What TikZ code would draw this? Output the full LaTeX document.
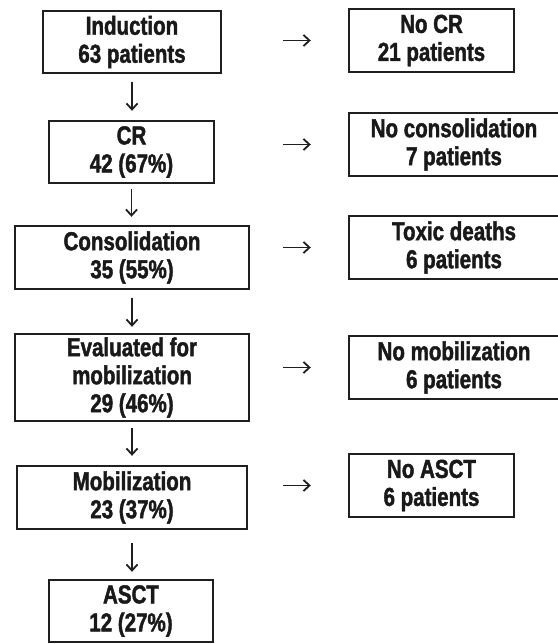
\documentclass[tikz,border=0pt]{standalone}
\usepackage{fontspec}
\setmainfont{Liberation Sans}[FakeStretch=0.79, BoldFeatures={FakeBold=1.6}]
\usetikzlibrary{arrows.meta}

\tikzset{
  stage/.style={draw=black!88, line width=2.4pt, inner sep=0pt, align=center,
    font=\fontsize{26}{28}\selectfont\bfseries, text=black!90},
  flow/.style={-{Straight Barb[length=6pt,width=11pt,line width=1.8pt]}, line width=1.9pt, draw=black!88},
}

\begin{document}
\begin{tikzpicture}[x=1pt,y=-1pt]
  \useasboundingbox (0,0) rectangle (557,644);

  % Main sequence
  \node[stage, minimum width=178pt, minimum height=62pt] (induct) at (132,42) {Induction\\63 patients};
  \node[stage, minimum width=165pt, minimum height=62pt] (cr) at (131.5,152) {CR\\42 (67\%)};
  \node[stage, minimum width=234pt, minimum height=63pt] (consol) at (132,257.5) {Consolidation\\35 (55\%)};
  \node[stage, minimum width=234pt, minimum height=87pt] (evalmob) at (132,377.5) {Evaluated for\\mobilization\\29 (46\%)};
  \node[stage, minimum width=230pt, minimum height=63pt] (mobil) at (132,497.5) {Mobilization\\23 (37\%)};
  \node[stage, minimum width=164pt, minimum height=62pt] (asct) at (131,611) {ASCT\\12 (27\%)};

  % Drop-outs
  \node[stage, minimum width=165pt, minimum height=63pt] (nocr) at (431.5,40.5) {No CR\\21 patients};
  \node[stage, minimum width=210pt, minimum height=63pt] (nocons) at (454,144.5) {No consolidation\\7 patients};
  \node[stage, minimum width=210pt, minimum height=63pt] (toxic) at (454,247.5) {Toxic deaths\\6 patients};
  \node[stage, minimum width=210pt, minimum height=63pt] (nomob) at (454,367.5) {No mobilization\\6 patients};
  \node[stage, minimum width=165pt, minimum height=63pt] (noasct) at (431.5,485.5) {No ASCT\\6 patients};

  % Arrows
  \foreach \a/\b/\s/\e in {induct/cr/8/9, cr/consol/5/8, consol/evalmob/8/6, evalmob/mobil/6/9, mobil/asct/13/7}
    \draw[flow, shorten <=\s pt, shorten >=\e pt] (\a.south) -- (\a.south |- \b.north);
  \foreach \a/\b/\s in {induct/nocr/61, cr/nocons/68, consol/toxic/33, evalmob/nomob/33, mobil/noasct/35}
    \draw[flow, shorten <=\s pt, shorten >=37pt] (\a.east |- \b.west) -- (\b.west);
\end{tikzpicture}
\end{document}
